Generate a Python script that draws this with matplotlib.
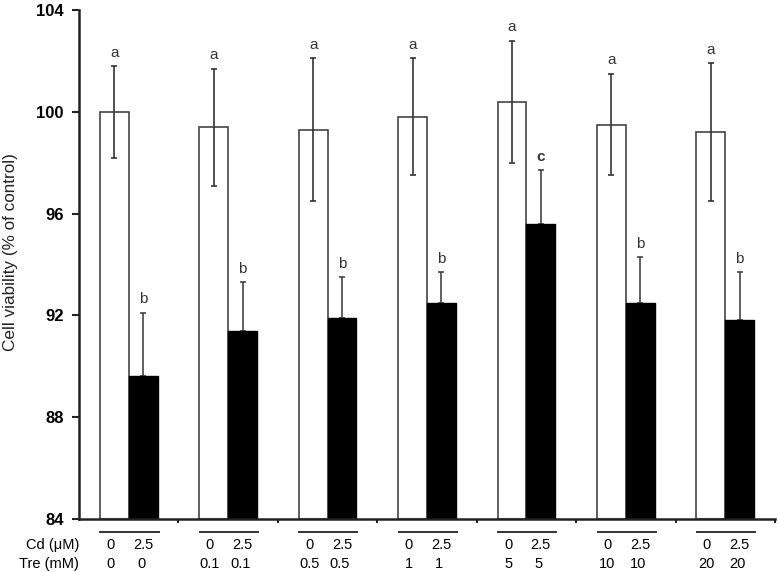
import matplotlib
matplotlib.use("Agg")
import matplotlib.pyplot as plt
import matplotlib.transforms as mtransforms
import numpy as np

plt.rcParams["font.family"] = ["Liberation Sans", "DejaVu Sans"]

# ── Data ─────────────────────────────────────────────────────────────────────
cd_labels  = ["0", "2.5"]
tre_labels = ["0", "0.1", "0.5", "1", "5", "10", "20"]

white_vals = [100.0, 99.4, 99.3, 99.8, 100.4, 99.5, 99.2]
white_err  = [1.8, 2.3, 2.8, 2.3, 2.4, 2.0, 2.7]
black_vals = [89.6, 91.4, 91.9, 92.5, 95.6, 92.5, 91.8]
black_err  = [2.5, 1.9, 1.6, 1.2, 2.1, 1.8, 1.9]

white_sig = ["a"] * 7
black_sig = ["b", "b", "b", "b", "c", "b", "b"]

# ── Figure ───────────────────────────────────────────────────────────────────
W, H, dpi = 779, 572, 100
fig = plt.figure(figsize=(W / dpi, H / dpi), dpi=dpi)
ax = fig.add_axes([79 / W, 53 / H, 696 / W, 509 / H])

n = len(white_vals)
x = np.arange(n) + 0.5
bw = 0.29
xw = x - bw / 2
xb = x + bw / 2

ax.bar(xw, np.array(white_vals) - 84, bottom=84, width=bw, color="white",
       edgecolor="#444444", linewidth=1.2, zorder=2)
ax.bar(xb, np.array(black_vals) - 84, bottom=84, width=bw, color="black",
       edgecolor="black", linewidth=1.0, zorder=2)

ax.errorbar(xw, white_vals, yerr=white_err, fmt="none", ecolor="#333333",
            elinewidth=1.2, capsize=2.5, capthick=1.2, zorder=3)
ax.errorbar(xb, black_vals, yerr=[np.zeros(n), black_err], fmt="none",
            ecolor="#444444", elinewidth=1.2, capsize=2.5, capthick=1.2, zorder=1)

# significance letters
for i in range(n):
    ax.text(xw[i], white_vals[i] + white_err[i] + 0.25, white_sig[i],
            ha="center", va="bottom", fontsize=11, color="#333333")
    ax.text(xb[i], black_vals[i] + black_err[i] + 0.25, black_sig[i],
            ha="center", va="bottom", fontsize=11, color="#333333",
            fontweight="bold" if black_sig[i] == "c" else "normal")

# ── Axes styling ─────────────────────────────────────────────────────────────
ax.set_xlim(0, n)
ax.set_ylim(84, 104)
ax.set_yticks(np.arange(84, 105, 4))
ax.set_yticklabels([str(v) for v in range(84, 105, 4)], fontsize=12,
                   fontweight="bold")
ax.set_xticks(np.arange(1, n + 1))
ax.set_xticklabels([])
ax.tick_params(axis="x", direction="out", length=3, width=1.5, color="#222222")
ax.tick_params(axis="y", direction="out", length=5, width=1.5, color="#222222",
               pad=6)
for s in ("top", "right"):
    ax.spines[s].set_visible(False)
for s in ("left", "bottom"):
    ax.spines[s].set_linewidth(1.8)
    ax.spines[s].set_color("#222222")

ax.set_ylabel("Cell viability (% of control)", fontsize=12.3, color="#222222")
ax.yaxis.set_label_coords(-0.088, 0.525)

# ── Category labels below the axis ───────────────────────────────────────────
trans = mtransforms.blended_transform_factory(ax.transData, ax.transAxes)
for i in range(n):
    ax.plot([i + 0.215, i + 0.8], [-0.026, -0.026], transform=trans,
            color="#333333", linewidth=1.4, clip_on=False)
    ax.text(xw[i] - 0.04, -0.037, cd_labels[0], transform=trans, ha="center",
            va="top", fontsize=10.5)
    ax.text(xb[i], -0.037, cd_labels[1], transform=trans, ha="center",
            va="top", fontsize=10.5)
    ax.text(xw[i] - 0.04, -0.075, tre_labels[i], transform=trans, ha="center",
            va="top", fontsize=10.5)
    ax.text(xb[i] - 0.02, -0.075, tre_labels[i], transform=trans, ha="center",
            va="top", fontsize=10.5)

ax.text(0.0, -0.037, "Cd (μM)", transform=ax.transAxes, ha="right",
        va="top", fontsize=10.5)
ax.text(0.0, -0.075, "Tre (mM)", transform=ax.transAxes, ha="right",
        va="top", fontsize=10.5)

fig.savefig("out.png", dpi=dpi, facecolor="white")
